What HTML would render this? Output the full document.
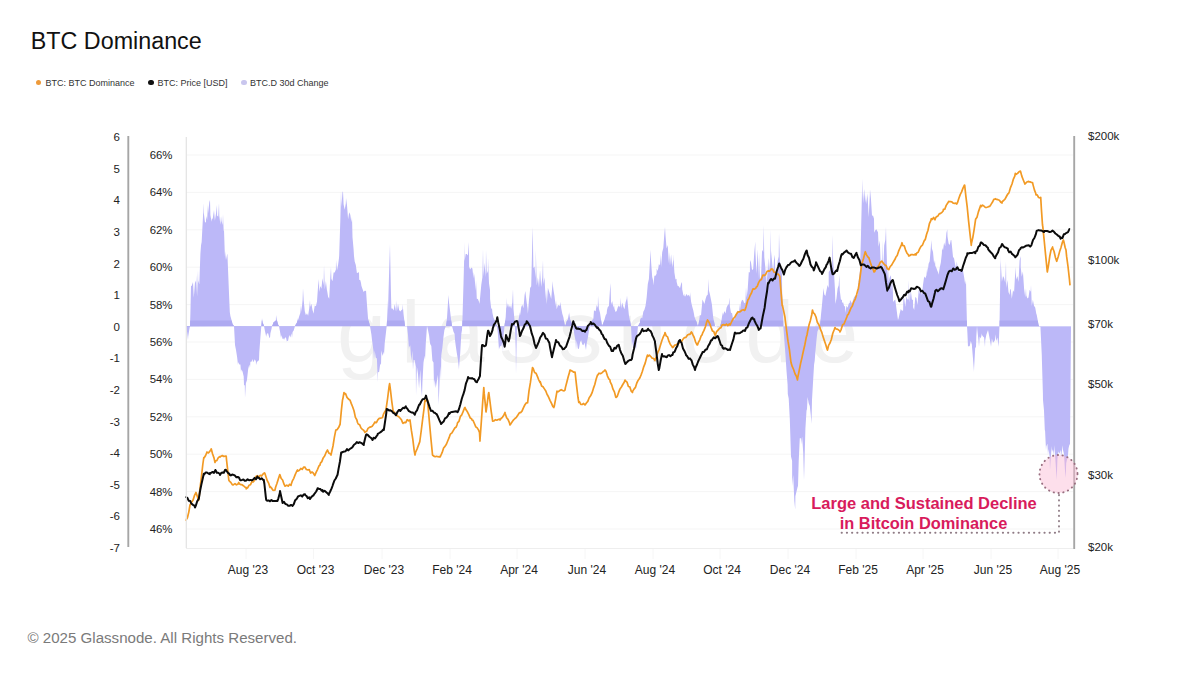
<!DOCTYPE html>
<html><head><meta charset="utf-8"><title>BTC Dominance</title>
<style>
html,body{margin:0;padding:0;background:#ffffff;}
body{width:1200px;height:675px;position:relative;overflow:hidden;font-family:"Liberation Sans", sans-serif;}
.title{position:absolute;left:30.8px;top:28px;font-size:23.3px;color:#111;white-space:nowrap;}
.legend{position:absolute;top:77.8px;left:0;font-size:9px;color:#333;white-space:nowrap;}
.li{position:absolute;top:0;}
.dot{position:absolute;top:1.8px;width:5.5px;height:5.5px;border-radius:50%;}
.copy{position:absolute;left:27.5px;top:629px;font-size:15.1px;color:#7a7a7a;white-space:nowrap;}
</style></head><body>
<div class="title">BTC Dominance</div>
<div class="legend">
<div class="dot" style="left:35.5px;background:#ee9a3a"></div><div class="li" style="left:45.5px">BTC: BTC Dominance</div>
<div class="dot" style="left:148px;background:#111"></div><div class="li" style="left:157.5px">BTC: Price [USD]</div>
<div class="dot" style="left:241px;background:#c9c6ee"></div><div class="li" style="left:250px">BTC.D 30d Change</div>
</div>
<svg width="1200" height="675" viewBox="0 0 1200 675" style="position:absolute;left:0;top:0"><line x1="186" x2="1073" y1="155.0" y2="155.0" stroke="#f5f5f5" stroke-width="1"/><line x1="186" x2="1073" y1="192.4" y2="192.4" stroke="#f5f5f5" stroke-width="1"/><line x1="186" x2="1073" y1="229.8" y2="229.8" stroke="#f5f5f5" stroke-width="1"/><line x1="186" x2="1073" y1="267.2" y2="267.2" stroke="#f5f5f5" stroke-width="1"/><line x1="186" x2="1073" y1="304.6" y2="304.6" stroke="#f5f5f5" stroke-width="1"/><line x1="186" x2="1073" y1="342.0" y2="342.0" stroke="#f5f5f5" stroke-width="1"/><line x1="186" x2="1073" y1="379.4" y2="379.4" stroke="#f5f5f5" stroke-width="1"/><line x1="186" x2="1073" y1="416.8" y2="416.8" stroke="#f5f5f5" stroke-width="1"/><line x1="186" x2="1073" y1="454.2" y2="454.2" stroke="#f5f5f5" stroke-width="1"/><line x1="186" x2="1073" y1="491.6" y2="491.6" stroke="#f5f5f5" stroke-width="1"/><line x1="186" x2="1073" y1="529.0" y2="529.0" stroke="#f5f5f5" stroke-width="1"/><text x="337" y="362" font-family='"Liberation Sans", sans-serif' font-size="88" letter-spacing="15" fill="#f1f1f1">glassnode</text><path d="M186.0,326.1 L186.0,326.5 L187.1,332.0 L188.0,340.0 L188.2,336.5 L189.3,329.6 L190.0,326.0 L190.4,313.5 L191.0,286.0 L191.6,286.1 L192.7,282.9 L193.0,282.0 L193.8,297.7 L194.9,283.3 L196.0,280.5 L196.0,275.0 L197.1,296.6 L198.0,270.0 L198.2,280.6 L199.3,284.3 L200.4,253.8 L201.3,242.0 L201.5,244.9 L202.7,222.0 L203.7,203.0 L203.8,212.7 L204.9,221.8 L206.0,222.8 L206.0,216.0 L207.1,219.9 L208.0,204.0 L208.2,213.5 L209.3,202.3 L210.0,200.0 L210.4,214.9 L211.5,221.8 L212.0,218.0 L212.6,219.5 L213.8,211.4 L214.0,210.0 L214.9,220.8 L216.0,213.5 L217.0,205.0 L217.1,215.4 L218.2,216.7 L219.0,203.0 L219.3,215.4 L220.4,224.8 L221.0,216.0 L221.5,220.7 L222.6,225.1 L223.0,214.0 L223.7,231.2 L224.0,230.0 L224.9,256.7 L225.0,251.0 L226.0,260.0 L227.1,254.4 L227.4,254.0 L228.2,273.7 L229.3,300.4 L229.8,312.0 L230.4,316.1 L231.5,320.1 L232.0,322.0 L232.6,324.2 L233.7,325.6 L234.0,326.0 L234.8,340.8 L235.0,345.0 L236.0,349.9 L237.1,357.0 L238.0,365.0 L238.2,362.0 L239.3,364.4 L240.4,364.6 L241.0,372.0 L241.5,369.3 L242.6,371.7 L243.7,376.4 L244.0,385.0 L244.8,385.5 L245.0,398.0 L245.9,383.2 L247.0,380.0 L247.1,378.5 L248.2,369.1 L249.3,364.5 L250.0,368.0 L250.4,361.7 L251.5,361.7 L252.6,358.9 L253.0,362.0 L253.7,361.6 L254.8,359.2 L255.9,361.6 L256.0,365.0 L257.0,361.7 L258.2,361.1 L259.0,360.0 L259.3,352.3 L260.4,337.5 L261.0,330.0 L261.5,324.3 L262.0,318.0 L262.6,322.6 L263.7,325.1 L264.0,326.0 L264.8,330.2 L265.9,335.2 L266.0,337.0 L267.0,333.5 L268.1,333.2 L269.3,337.6 L270.0,338.0 L270.4,333.3 L271.5,329.1 L272.0,326.0 L272.6,325.1 L273.7,322.1 L274.8,321.6 L275.9,320.2 L276.0,315.0 L277.0,320.5 L278.1,324.5 L279.0,326.0 L279.2,327.3 L280.4,333.8 L281.0,338.0 L281.5,335.1 L282.6,338.9 L283.7,338.6 L284.0,340.0 L284.8,338.0 L285.9,337.2 L287.0,342.0 L287.0,340.9 L288.1,340.8 L289.2,334.9 L290.3,337.5 L291.5,333.3 L292.0,338.0 L292.6,332.0 L293.7,330.5 L294.8,326.8 L295.0,326.0 L295.9,324.3 L297.0,322.4 L298.0,318.0 L298.1,319.9 L299.2,316.2 L300.3,313.1 L301.0,305.0 L301.4,311.9 L302.6,299.7 L303.0,288.0 L303.7,300.3 L304.8,311.2 L305.9,315.3 L306.0,315.0 L307.0,313.3 L308.1,315.7 L309.2,308.5 L310.0,300.0 L310.3,307.1 L311.4,303.7 L312.5,310.1 L313.7,313.7 L314.0,310.0 L314.8,305.5 L315.9,306.2 L317.0,301.5 L318.1,285.8 L319.0,279.0 L319.2,292.0 L320.3,286.1 L321.4,288.8 L322.5,278.2 L323.6,285.3 L324.0,265.0 L324.8,289.6 L325.9,281.0 L327.0,290.8 L327.0,290.0 L328.1,296.8 L329.2,298.7 L330.3,277.3 L331.0,267.0 L331.4,278.8 L332.5,281.3 L333.6,272.4 L334.7,272.4 L335.9,269.5 L336.0,260.0 L337.0,270.5 L338.1,264.7 L339.0,258.0 L339.2,255.3 L340.3,221.1 L341.0,191.0 L341.4,206.8 L342.5,191.9 L343.0,191.5 L343.6,204.3 L344.7,209.7 L345.8,203.6 L346.0,198.0 L347.0,205.2 L348.1,219.2 L349.2,212.3 L350.3,214.8 L351.4,222.3 L352.0,217.0 L352.5,237.2 L353.6,249.6 L354.0,256.0 L354.7,261.6 L355.8,265.1 L356.9,273.0 L358.1,272.7 L359.0,272.0 L359.2,279.8 L360.3,280.2 L361.0,283.0 L361.4,285.7 L362.5,289.1 L363.6,291.9 L364.7,290.8 L365.8,291.0 L366.0,290.0 L366.9,303.4 L368.0,318.0 L368.0,318.8 L369.2,322.7 L370.0,326.0 L370.3,327.7 L371.4,334.4 L372.0,340.0 L372.5,343.3 L373.6,352.2 L374.0,360.0 L374.7,350.4 L375.8,357.8 L376.9,358.6 L377.8,382.0 L378.0,372.3 L379.1,372.1 L380.3,363.4 L381.0,365.0 L381.4,350.5 L382.5,356.0 L383.6,351.7 L384.0,355.0 L384.7,343.6 L385.8,333.9 L386.7,326.0 L386.9,322.7 L388.0,300.0 L388.0,310.7 L389.1,272.4 L390.0,244.0 L390.2,256.4 L391.0,295.0 L391.4,308.6 L392.5,308.4 L393.6,310.4 L394.7,304.1 L395.8,311.2 L396.0,300.0 L396.9,311.4 L398.0,303.7 L399.1,310.1 L400.2,311.6 L401.3,310.2 L402.5,309.2 L402.6,304.0 L403.6,314.6 L404.7,323.5 L405.0,326.0 L405.8,326.1 L406.9,326.0 L407.0,326.0 L408.0,335.0 L409.0,350.0 L409.1,347.4 L410.2,345.3 L411.3,360.9 L412.4,350.7 L413.0,370.0 L413.6,359.7 L414.7,360.3 L415.8,366.8 L416.0,396.0 L416.9,366.5 L418.0,374.0 L419.0,388.0 L419.1,387.9 L420.2,369.8 L421.3,389.7 L422.0,397.0 L422.4,382.9 L423.5,362.6 L424.7,355.4 L425.0,360.0 L425.8,343.2 L426.9,327.5 L427.0,326.0 L428.0,330.0 L429.1,335.6 L429.6,340.0 L430.2,344.1 L431.3,345.9 L432.4,360.8 L433.5,362.4 L434.0,387.0 L434.6,379.6 L435.8,388.0 L436.9,381.1 L438.0,374.8 L438.5,405.0 L439.1,393.6 L440.2,366.2 L441.0,380.0 L441.3,355.2 L442.4,347.4 L443.5,336.8 L444.4,330.0 L444.6,329.4 L445.7,326.6 L446.0,326.0 L446.9,319.7 L448.0,302.3 L448.5,295.0 L449.1,303.3 L450.2,311.9 L451.3,321.3 L452.0,326.0 L452.4,327.6 L453.5,331.7 L454.6,334.1 L455.0,340.0 L455.7,345.5 L456.8,353.1 L458.0,360.1 L459.0,370.0 L459.1,366.8 L460.2,353.5 L461.3,333.9 L462.0,330.0 L462.4,321.5 L463.0,300.0 L463.5,283.6 L464.6,242.0 L464.6,261.1 L465.7,254.0 L466.8,254.0 L467.9,255.4 L469.0,242.0 L469.1,266.8 L470.2,269.6 L471.3,267.6 L472.4,268.6 L473.5,278.4 L473.8,272.0 L474.6,277.8 L475.7,290.8 L476.0,280.0 L476.8,298.8 L477.9,298.9 L479.0,301.8 L479.5,304.0 L480.2,296.4 L481.3,284.8 L482.4,277.3 L483.0,249.0 L483.5,276.4 L484.6,262.7 L485.7,277.5 L486.0,250.0 L486.8,273.8 L487.9,271.0 L488.0,258.0 L489.0,283.2 L490.0,290.0 L490.1,299.1 L491.3,309.2 L492.0,308.0 L492.4,312.7 L493.5,317.8 L494.6,320.0 L495.0,320.0 L495.7,322.6 L496.8,325.7 L497.0,326.0 L497.9,333.7 L499.0,350.0 L499.0,349.3 L500.1,346.0 L501.2,346.4 L502.4,341.7 L503.0,352.0 L503.5,336.6 L504.5,326.0 L504.6,325.3 L505.7,317.1 L506.7,297.5 L506.8,308.0 L507.9,303.3 L509.0,307.7 L510.0,305.0 L510.1,305.6 L511.2,308.7 L512.3,302.6 L513.0,289.0 L513.5,309.0 L514.6,320.9 L515.0,326.0 L515.7,348.6 L516.0,374.0 L516.8,333.2 L517.0,326.0 L517.9,323.0 L519.0,317.1 L520.0,312.0 L520.1,315.5 L521.2,307.3 L522.3,304.5 L523.4,308.3 L524.6,294.9 L525.4,291.0 L525.7,294.5 L526.8,303.2 L527.5,308.0 L527.9,313.7 L529.0,299.6 L530.0,290.0 L530.1,288.1 L531.2,286.3 L532.3,240.8 L532.7,227.0 L533.4,268.1 L534.5,266.6 L535.7,278.0 L535.8,249.8 L536.8,285.4 L537.9,277.3 L539.0,287.4 L540.0,270.5 L540.1,271.1 L541.2,287.1 L542.3,277.2 L543.0,260.0 L543.4,284.2 L544.5,277.3 L545.6,299.3 L546.0,289.0 L546.8,304.2 L547.9,287.8 L549.0,291.3 L550.1,294.7 L551.2,298.9 L552.3,286.1 L552.4,281.0 L553.4,289.6 L554.5,296.0 L555.6,305.9 L556.0,300.0 L556.7,309.2 L557.9,305.2 L559.0,305.3 L560.1,305.9 L560.7,301.7 L561.2,307.9 L562.3,313.7 L563.4,317.3 L564.5,324.0 L565.0,326.0 L565.6,325.0 L566.7,321.2 L567.8,319.6 L569.0,313.2 L569.0,312.0 L570.1,319.1 L571.2,321.9 L572.3,324.4 L573.0,326.0 L573.4,328.5 L574.5,335.5 L575.6,341.0 L576.0,350.0 L576.7,340.5 L577.8,348.4 L578.9,349.0 L580.1,342.1 L581.2,340.3 L582.3,344.5 L583.4,345.3 L584.5,342.4 L585.6,348.0 L586.0,350.0 L586.7,343.4 L587.8,338.0 L588.9,330.9 L590.0,326.0 L590.0,325.9 L591.2,321.9 L592.3,319.9 L593.4,318.5 L594.0,310.0 L594.5,310.7 L595.6,311.3 L596.7,305.0 L597.8,307.8 L598.0,295.4 L598.9,308.8 L600.0,312.8 L601.1,320.1 L602.0,326.0 L602.3,325.2 L603.4,322.7 L604.5,319.5 L605.6,315.5 L606.7,313.5 L607.0,310.0 L607.8,307.1 L608.9,306.1 L610.0,289.3 L610.5,283.0 L611.1,304.6 L612.2,301.0 L613.4,307.8 L614.0,305.0 L614.5,309.1 L615.6,312.0 L616.7,311.1 L617.8,307.3 L618.9,305.5 L620.0,307.6 L621.0,297.5 L621.1,308.7 L622.2,302.4 L623.3,306.5 L624.5,309.3 L625.6,302.3 L626.7,298.7 L627.0,295.4 L627.8,304.0 L628.9,315.2 L630.0,320.8 L631.0,326.0 L631.1,327.7 L632.0,350.0 L632.2,341.0 L633.3,347.4 L634.4,348.0 L635.6,347.3 L636.0,350.0 L636.7,340.8 L637.8,328.0 L638.0,326.0 L638.9,324.6 L640.0,322.6 L640.0,320.0 L641.1,317.6 L642.2,318.2 L643.3,311.8 L644.4,309.8 L645.5,305.9 L646.4,299.6 L646.7,297.1 L647.8,283.9 L648.9,279.1 L650.0,260.2 L650.5,249.8 L651.1,261.9 L652.2,276.9 L653.0,280.0 L653.3,285.4 L654.4,275.7 L655.5,275.8 L656.6,273.7 L656.7,268.5 L657.8,270.9 L658.9,264.0 L660.0,265.6 L661.0,254.0 L661.1,267.4 L662.2,252.3 L663.3,248.1 L664.4,233.3 L665.0,227.0 L665.5,235.4 L666.6,248.6 L667.7,245.1 L668.9,263.4 L669.2,251.9 L670.0,265.8 L671.1,254.3 L672.2,267.2 L673.3,259.4 L673.3,254.0 L674.4,272.4 L675.5,279.5 L676.5,278.8 L676.6,281.7 L677.7,285.9 L678.8,286.2 L680.0,288.2 L681.1,283.8 L682.0,282.0 L682.2,289.3 L683.3,294.8 L684.4,296.4 L684.8,293.4 L685.5,296.8 L686.6,293.7 L687.7,296.0 L688.8,294.7 L689.9,297.0 L690.0,292.0 L691.1,301.7 L692.2,306.4 L693.3,310.6 L694.0,314.0 L694.4,316.6 L695.5,319.5 L696.6,322.0 L697.7,325.7 L698.0,326.0 L698.8,322.7 L699.9,315.1 L701.0,315.6 L702.2,302.7 L702.4,299.6 L703.3,301.2 L704.4,303.9 L705.5,299.3 L706.6,295.8 L707.7,294.8 L708.6,278.8 L708.8,289.9 L709.9,294.2 L711.0,299.8 L712.0,305.0 L712.1,306.6 L713.3,317.9 L714.4,323.2 L715.0,326.0 L715.5,326.1 L716.6,326.2 L717.7,326.1 L718.8,326.1 L719.9,326.1 L720.0,326.0 L721.0,323.3 L722.1,316.3 L723.0,312.0 L723.2,314.9 L724.4,310.9 L725.5,313.4 L726.6,307.5 L727.7,305.2 L728.8,303.9 L729.4,297.5 L729.9,306.4 L731.0,312.7 L732.1,313.3 L733.2,320.1 L734.0,320.0 L734.3,319.4 L735.5,317.1 L736.6,313.3 L737.7,310.4 L738.8,313.4 L739.7,303.7 L739.9,310.8 L741.0,302.4 L742.1,299.8 L743.2,300.4 L744.3,303.2 L745.4,302.4 L746.0,287.0 L746.6,297.8 L747.7,289.3 L748.8,272.1 L749.9,272.6 L750.0,260.0 L751.0,262.6 L752.1,270.2 L753.2,268.7 L754.3,252.3 L755.3,241.5 L755.4,251.4 L756.5,273.7 L757.7,249.2 L758.8,278.5 L759.0,252.0 L759.9,278.8 L761.0,277.2 L762.1,249.8 L763.2,252.0 L763.6,225.0 L764.3,257.3 L765.4,268.1 L766.5,287.5 L767.0,262.0 L767.6,278.2 L768.8,257.9 L769.9,272.1 L770.9,229.0 L771.0,250.7 L772.1,261.9 L773.2,272.5 L774.3,254.8 L775.0,260.0 L775.4,281.2 L776.5,272.6 L777.6,260.9 L778.7,256.4 L779.0,233.0 L779.9,261.8 L781.0,266.2 L782.0,275.0 L782.1,289.4 L783.2,321.3 L783.3,326.0 L784.3,339.7 L785.4,354.1 L786.5,370.7 L787.6,384.7 L787.8,394.0 L788.7,398.4 L789.8,419.0 L791.0,456.6 L792.1,460.7 L792.2,486.0 L793.2,474.9 L794.3,500.8 L795.2,509.6 L795.4,496.2 L796.5,491.4 L797.6,487.0 L798.0,486.0 L798.7,461.5 L799.8,438.2 L800.9,438.3 L801.0,444.4 L802.1,436.4 L803.2,452.1 L804.0,480.0 L804.3,470.1 L805.4,428.7 L806.5,410.8 L807.0,409.0 L807.6,396.9 L808.7,403.2 L809.8,406.0 L810.9,415.9 L811.5,423.7 L812.0,400.1 L813.2,379.3 L814.3,360.9 L814.4,364.4 L815.4,351.7 L816.5,339.8 L817.4,331.9 L817.6,331.0 L818.7,328.9 L819.8,326.4 L820.0,326.0 L820.9,315.8 L822.0,304.8 L823.1,292.5 L823.3,288.0 L824.3,294.4 L825.4,295.9 L826.5,290.2 L827.6,285.0 L828.7,287.9 L828.7,272.0 L829.8,270.6 L830.9,267.1 L832.0,270.2 L832.7,234.7 L833.1,259.8 L834.2,276.2 L835.0,290.0 L835.4,304.0 L836.5,298.3 L837.6,288.4 L838.7,285.2 L839.3,274.7 L839.8,290.5 L840.9,299.6 L842.0,300.0 L842.0,302.7 L843.1,302.3 L844.2,306.5 L845.0,306.0 L845.3,313.0 L846.5,305.7 L847.6,307.8 L848.7,303.8 L849.8,302.7 L850.0,300.0 L850.9,301.4 L852.0,303.5 L853.1,299.7 L854.2,297.0 L855.0,296.0 L855.3,296.4 L856.4,293.4 L857.6,295.4 L858.0,285.0 L858.7,280.6 L859.8,272.0 L860.0,270.0 L860.9,238.5 L862.0,191.2 L862.0,178.7 L863.1,203.3 L864.2,189.0 L865.3,202.8 L866.0,194.7 L866.4,204.6 L867.5,193.3 L868.7,217.3 L869.8,195.6 L870.0,189.3 L870.9,198.2 L872.0,215.5 L873.1,215.8 L874.0,218.7 L874.2,232.7 L875.3,230.2 L876.4,229.2 L877.5,231.4 L878.0,232.0 L878.6,246.8 L879.8,240.5 L880.9,269.2 L882.0,258.1 L882.0,240.0 L883.1,274.2 L884.2,245.4 L885.3,240.0 L886.0,226.7 L886.4,245.0 L887.5,280.3 L888.0,262.0 L888.6,282.0 L889.7,277.6 L890.9,275.2 L892.0,292.3 L892.7,280.0 L893.1,301.9 L894.2,300.6 L895.3,299.6 L896.4,308.2 L897.5,316.7 L898.0,320.0 L898.6,318.2 L899.7,313.3 L900.8,309.0 L902.0,310.7 L903.1,310.5 L903.3,298.7 L904.2,298.5 L905.3,307.0 L906.4,296.3 L907.5,299.5 L908.6,299.4 L908.7,280.0 L909.7,302.4 L910.8,290.5 L911.9,299.4 L913.0,300.0 L913.1,307.2 L914.2,310.0 L915.3,296.9 L916.4,297.9 L917.5,304.9 L918.6,291.3 L919.3,288.0 L919.7,293.9 L920.8,290.4 L921.9,294.9 L923.0,284.8 L924.2,276.4 L925.3,278.2 L926.4,275.5 L927.3,266.7 L927.5,273.1 L928.6,263.8 L929.7,261.2 L930.8,247.8 L931.3,240.0 L931.9,248.5 L933.0,252.0 L934.1,263.7 L935.0,260.0 L935.3,265.7 L936.4,267.9 L937.5,271.3 L938.0,272.0 L938.6,274.8 L939.7,267.7 L940.8,262.8 L941.9,253.1 L942.0,248.0 L943.0,250.4 L944.1,242.5 L945.2,246.2 L946.4,233.0 L947.3,229.3 L947.5,236.5 L948.6,243.4 L949.7,244.9 L950.8,239.9 L951.3,240.0 L951.9,245.4 L953.0,256.8 L954.1,258.4 L955.2,264.9 L956.3,268.6 L956.7,261.3 L957.5,266.4 L958.6,271.7 L959.7,271.2 L960.8,268.5 L961.9,269.9 L962.0,266.7 L963.0,270.6 L964.1,276.9 L965.2,284.4 L966.0,280.0 L966.3,296.7 L967.0,326.0 L967.4,333.0 L968.0,347.0 L968.6,346.0 L969.7,346.3 L970.8,341.0 L971.9,344.8 L972.0,347.0 L973.0,358.7 L974.0,372.0 L974.1,367.7 L975.2,348.1 L976.0,347.0 L976.3,336.6 L977.0,326.0 L977.4,330.5 L978.5,340.5 L979.0,347.0 L979.7,336.6 L980.8,338.6 L981.9,333.2 L982.0,335.0 L983.0,336.6 L984.1,337.4 L985.0,347.0 L985.2,340.6 L986.3,334.9 L987.4,331.7 L988.0,330.0 L988.5,332.5 L989.6,338.3 L990.8,344.9 L991.0,347.0 L991.9,338.4 L993.0,342.7 L994.1,341.4 L995.0,340.0 L995.2,334.3 L996.3,341.1 L997.4,337.4 L998.5,346.1 L998.6,347.0 L999.5,326.0 L999.6,319.9 L1000.7,253.3 L1000.7,260.7 L1001.9,281.7 L1003.0,276.0 L1004.1,278.1 L1005.2,282.8 L1006.0,261.3 L1006.3,288.1 L1007.4,279.9 L1008.5,292.1 L1009.6,295.1 L1010.0,290.0 L1010.7,288.8 L1011.8,298.7 L1013.0,290.3 L1014.1,292.1 L1015.2,272.8 L1015.3,266.7 L1016.3,279.7 L1017.4,275.9 L1018.5,282.0 L1019.6,260.5 L1020.7,256.0 L1020.7,267.1 L1021.8,276.7 L1022.9,271.4 L1024.1,288.7 L1025.2,297.3 L1026.0,288.0 L1026.3,295.2 L1027.4,298.6 L1028.5,297.4 L1029.6,289.8 L1030.7,291.7 L1031.0,285.0 L1031.8,306.0 L1032.9,299.8 L1034.0,305.8 L1035.2,307.4 L1036.3,313.8 L1036.7,314.7 L1037.4,318.6 L1038.5,324.7 L1039.0,326.0 L1039.6,326.2 L1040.4,326.0 L1040.7,332.4 L1041.8,355.5 L1041.9,360.0 L1042.9,393.6 L1043.0,400.0 L1044.0,410.4 L1044.8,430.0 L1045.1,431.0 L1046.0,450.0 L1046.3,446.5 L1047.4,443.8 L1048.0,455.0 L1048.5,449.0 L1049.6,456.2 L1050.0,470.0 L1050.7,458.5 L1051.8,445.9 L1052.0,452.0 L1052.9,449.2 L1054.0,455.0 L1054.0,444.9 L1055.1,455.2 L1056.2,472.3 L1056.7,480.0 L1057.4,459.2 L1058.5,450.8 L1058.5,452.0 L1059.6,453.6 L1060.7,449.7 L1061.0,458.0 L1061.8,451.8 L1062.9,445.3 L1063.0,450.0 L1064.0,454.0 L1065.1,472.4 L1065.6,478.0 L1066.2,463.3 L1067.3,458.3 L1068.0,455.0 L1068.5,448.4 L1069.6,443.9 L1070.0,445.0 L1070.7,363.0 L1071.0,326.5 Z" fill="#bcb8f8"/><defs><clipPath id="band"><rect x="186" y="320.5" width="886" height="6"/></clipPath></defs><path d="M186.0,326.1 L186.0,326.5 L187.1,332.0 L188.0,340.0 L188.2,336.5 L189.3,329.6 L190.0,326.0 L190.4,313.5 L191.0,286.0 L191.6,286.1 L192.7,282.9 L193.0,282.0 L193.8,297.7 L194.9,283.3 L196.0,280.5 L196.0,275.0 L197.1,296.6 L198.0,270.0 L198.2,280.6 L199.3,284.3 L200.4,253.8 L201.3,242.0 L201.5,244.9 L202.7,222.0 L203.7,203.0 L203.8,212.7 L204.9,221.8 L206.0,222.8 L206.0,216.0 L207.1,219.9 L208.0,204.0 L208.2,213.5 L209.3,202.3 L210.0,200.0 L210.4,214.9 L211.5,221.8 L212.0,218.0 L212.6,219.5 L213.8,211.4 L214.0,210.0 L214.9,220.8 L216.0,213.5 L217.0,205.0 L217.1,215.4 L218.2,216.7 L219.0,203.0 L219.3,215.4 L220.4,224.8 L221.0,216.0 L221.5,220.7 L222.6,225.1 L223.0,214.0 L223.7,231.2 L224.0,230.0 L224.9,256.7 L225.0,251.0 L226.0,260.0 L227.1,254.4 L227.4,254.0 L228.2,273.7 L229.3,300.4 L229.8,312.0 L230.4,316.1 L231.5,320.1 L232.0,322.0 L232.6,324.2 L233.7,325.6 L234.0,326.0 L234.8,340.8 L235.0,345.0 L236.0,349.9 L237.1,357.0 L238.0,365.0 L238.2,362.0 L239.3,364.4 L240.4,364.6 L241.0,372.0 L241.5,369.3 L242.6,371.7 L243.7,376.4 L244.0,385.0 L244.8,385.5 L245.0,398.0 L245.9,383.2 L247.0,380.0 L247.1,378.5 L248.2,369.1 L249.3,364.5 L250.0,368.0 L250.4,361.7 L251.5,361.7 L252.6,358.9 L253.0,362.0 L253.7,361.6 L254.8,359.2 L255.9,361.6 L256.0,365.0 L257.0,361.7 L258.2,361.1 L259.0,360.0 L259.3,352.3 L260.4,337.5 L261.0,330.0 L261.5,324.3 L262.0,318.0 L262.6,322.6 L263.7,325.1 L264.0,326.0 L264.8,330.2 L265.9,335.2 L266.0,337.0 L267.0,333.5 L268.1,333.2 L269.3,337.6 L270.0,338.0 L270.4,333.3 L271.5,329.1 L272.0,326.0 L272.6,325.1 L273.7,322.1 L274.8,321.6 L275.9,320.2 L276.0,315.0 L277.0,320.5 L278.1,324.5 L279.0,326.0 L279.2,327.3 L280.4,333.8 L281.0,338.0 L281.5,335.1 L282.6,338.9 L283.7,338.6 L284.0,340.0 L284.8,338.0 L285.9,337.2 L287.0,342.0 L287.0,340.9 L288.1,340.8 L289.2,334.9 L290.3,337.5 L291.5,333.3 L292.0,338.0 L292.6,332.0 L293.7,330.5 L294.8,326.8 L295.0,326.0 L295.9,324.3 L297.0,322.4 L298.0,318.0 L298.1,319.9 L299.2,316.2 L300.3,313.1 L301.0,305.0 L301.4,311.9 L302.6,299.7 L303.0,288.0 L303.7,300.3 L304.8,311.2 L305.9,315.3 L306.0,315.0 L307.0,313.3 L308.1,315.7 L309.2,308.5 L310.0,300.0 L310.3,307.1 L311.4,303.7 L312.5,310.1 L313.7,313.7 L314.0,310.0 L314.8,305.5 L315.9,306.2 L317.0,301.5 L318.1,285.8 L319.0,279.0 L319.2,292.0 L320.3,286.1 L321.4,288.8 L322.5,278.2 L323.6,285.3 L324.0,265.0 L324.8,289.6 L325.9,281.0 L327.0,290.8 L327.0,290.0 L328.1,296.8 L329.2,298.7 L330.3,277.3 L331.0,267.0 L331.4,278.8 L332.5,281.3 L333.6,272.4 L334.7,272.4 L335.9,269.5 L336.0,260.0 L337.0,270.5 L338.1,264.7 L339.0,258.0 L339.2,255.3 L340.3,221.1 L341.0,191.0 L341.4,206.8 L342.5,191.9 L343.0,191.5 L343.6,204.3 L344.7,209.7 L345.8,203.6 L346.0,198.0 L347.0,205.2 L348.1,219.2 L349.2,212.3 L350.3,214.8 L351.4,222.3 L352.0,217.0 L352.5,237.2 L353.6,249.6 L354.0,256.0 L354.7,261.6 L355.8,265.1 L356.9,273.0 L358.1,272.7 L359.0,272.0 L359.2,279.8 L360.3,280.2 L361.0,283.0 L361.4,285.7 L362.5,289.1 L363.6,291.9 L364.7,290.8 L365.8,291.0 L366.0,290.0 L366.9,303.4 L368.0,318.0 L368.0,318.8 L369.2,322.7 L370.0,326.0 L370.3,327.7 L371.4,334.4 L372.0,340.0 L372.5,343.3 L373.6,352.2 L374.0,360.0 L374.7,350.4 L375.8,357.8 L376.9,358.6 L377.8,382.0 L378.0,372.3 L379.1,372.1 L380.3,363.4 L381.0,365.0 L381.4,350.5 L382.5,356.0 L383.6,351.7 L384.0,355.0 L384.7,343.6 L385.8,333.9 L386.7,326.0 L386.9,322.7 L388.0,300.0 L388.0,310.7 L389.1,272.4 L390.0,244.0 L390.2,256.4 L391.0,295.0 L391.4,308.6 L392.5,308.4 L393.6,310.4 L394.7,304.1 L395.8,311.2 L396.0,300.0 L396.9,311.4 L398.0,303.7 L399.1,310.1 L400.2,311.6 L401.3,310.2 L402.5,309.2 L402.6,304.0 L403.6,314.6 L404.7,323.5 L405.0,326.0 L405.8,326.1 L406.9,326.0 L407.0,326.0 L408.0,335.0 L409.0,350.0 L409.1,347.4 L410.2,345.3 L411.3,360.9 L412.4,350.7 L413.0,370.0 L413.6,359.7 L414.7,360.3 L415.8,366.8 L416.0,396.0 L416.9,366.5 L418.0,374.0 L419.0,388.0 L419.1,387.9 L420.2,369.8 L421.3,389.7 L422.0,397.0 L422.4,382.9 L423.5,362.6 L424.7,355.4 L425.0,360.0 L425.8,343.2 L426.9,327.5 L427.0,326.0 L428.0,330.0 L429.1,335.6 L429.6,340.0 L430.2,344.1 L431.3,345.9 L432.4,360.8 L433.5,362.4 L434.0,387.0 L434.6,379.6 L435.8,388.0 L436.9,381.1 L438.0,374.8 L438.5,405.0 L439.1,393.6 L440.2,366.2 L441.0,380.0 L441.3,355.2 L442.4,347.4 L443.5,336.8 L444.4,330.0 L444.6,329.4 L445.7,326.6 L446.0,326.0 L446.9,319.7 L448.0,302.3 L448.5,295.0 L449.1,303.3 L450.2,311.9 L451.3,321.3 L452.0,326.0 L452.4,327.6 L453.5,331.7 L454.6,334.1 L455.0,340.0 L455.7,345.5 L456.8,353.1 L458.0,360.1 L459.0,370.0 L459.1,366.8 L460.2,353.5 L461.3,333.9 L462.0,330.0 L462.4,321.5 L463.0,300.0 L463.5,283.6 L464.6,242.0 L464.6,261.1 L465.7,254.0 L466.8,254.0 L467.9,255.4 L469.0,242.0 L469.1,266.8 L470.2,269.6 L471.3,267.6 L472.4,268.6 L473.5,278.4 L473.8,272.0 L474.6,277.8 L475.7,290.8 L476.0,280.0 L476.8,298.8 L477.9,298.9 L479.0,301.8 L479.5,304.0 L480.2,296.4 L481.3,284.8 L482.4,277.3 L483.0,249.0 L483.5,276.4 L484.6,262.7 L485.7,277.5 L486.0,250.0 L486.8,273.8 L487.9,271.0 L488.0,258.0 L489.0,283.2 L490.0,290.0 L490.1,299.1 L491.3,309.2 L492.0,308.0 L492.4,312.7 L493.5,317.8 L494.6,320.0 L495.0,320.0 L495.7,322.6 L496.8,325.7 L497.0,326.0 L497.9,333.7 L499.0,350.0 L499.0,349.3 L500.1,346.0 L501.2,346.4 L502.4,341.7 L503.0,352.0 L503.5,336.6 L504.5,326.0 L504.6,325.3 L505.7,317.1 L506.7,297.5 L506.8,308.0 L507.9,303.3 L509.0,307.7 L510.0,305.0 L510.1,305.6 L511.2,308.7 L512.3,302.6 L513.0,289.0 L513.5,309.0 L514.6,320.9 L515.0,326.0 L515.7,348.6 L516.0,374.0 L516.8,333.2 L517.0,326.0 L517.9,323.0 L519.0,317.1 L520.0,312.0 L520.1,315.5 L521.2,307.3 L522.3,304.5 L523.4,308.3 L524.6,294.9 L525.4,291.0 L525.7,294.5 L526.8,303.2 L527.5,308.0 L527.9,313.7 L529.0,299.6 L530.0,290.0 L530.1,288.1 L531.2,286.3 L532.3,240.8 L532.7,227.0 L533.4,268.1 L534.5,266.6 L535.7,278.0 L535.8,249.8 L536.8,285.4 L537.9,277.3 L539.0,287.4 L540.0,270.5 L540.1,271.1 L541.2,287.1 L542.3,277.2 L543.0,260.0 L543.4,284.2 L544.5,277.3 L545.6,299.3 L546.0,289.0 L546.8,304.2 L547.9,287.8 L549.0,291.3 L550.1,294.7 L551.2,298.9 L552.3,286.1 L552.4,281.0 L553.4,289.6 L554.5,296.0 L555.6,305.9 L556.0,300.0 L556.7,309.2 L557.9,305.2 L559.0,305.3 L560.1,305.9 L560.7,301.7 L561.2,307.9 L562.3,313.7 L563.4,317.3 L564.5,324.0 L565.0,326.0 L565.6,325.0 L566.7,321.2 L567.8,319.6 L569.0,313.2 L569.0,312.0 L570.1,319.1 L571.2,321.9 L572.3,324.4 L573.0,326.0 L573.4,328.5 L574.5,335.5 L575.6,341.0 L576.0,350.0 L576.7,340.5 L577.8,348.4 L578.9,349.0 L580.1,342.1 L581.2,340.3 L582.3,344.5 L583.4,345.3 L584.5,342.4 L585.6,348.0 L586.0,350.0 L586.7,343.4 L587.8,338.0 L588.9,330.9 L590.0,326.0 L590.0,325.9 L591.2,321.9 L592.3,319.9 L593.4,318.5 L594.0,310.0 L594.5,310.7 L595.6,311.3 L596.7,305.0 L597.8,307.8 L598.0,295.4 L598.9,308.8 L600.0,312.8 L601.1,320.1 L602.0,326.0 L602.3,325.2 L603.4,322.7 L604.5,319.5 L605.6,315.5 L606.7,313.5 L607.0,310.0 L607.8,307.1 L608.9,306.1 L610.0,289.3 L610.5,283.0 L611.1,304.6 L612.2,301.0 L613.4,307.8 L614.0,305.0 L614.5,309.1 L615.6,312.0 L616.7,311.1 L617.8,307.3 L618.9,305.5 L620.0,307.6 L621.0,297.5 L621.1,308.7 L622.2,302.4 L623.3,306.5 L624.5,309.3 L625.6,302.3 L626.7,298.7 L627.0,295.4 L627.8,304.0 L628.9,315.2 L630.0,320.8 L631.0,326.0 L631.1,327.7 L632.0,350.0 L632.2,341.0 L633.3,347.4 L634.4,348.0 L635.6,347.3 L636.0,350.0 L636.7,340.8 L637.8,328.0 L638.0,326.0 L638.9,324.6 L640.0,322.6 L640.0,320.0 L641.1,317.6 L642.2,318.2 L643.3,311.8 L644.4,309.8 L645.5,305.9 L646.4,299.6 L646.7,297.1 L647.8,283.9 L648.9,279.1 L650.0,260.2 L650.5,249.8 L651.1,261.9 L652.2,276.9 L653.0,280.0 L653.3,285.4 L654.4,275.7 L655.5,275.8 L656.6,273.7 L656.7,268.5 L657.8,270.9 L658.9,264.0 L660.0,265.6 L661.0,254.0 L661.1,267.4 L662.2,252.3 L663.3,248.1 L664.4,233.3 L665.0,227.0 L665.5,235.4 L666.6,248.6 L667.7,245.1 L668.9,263.4 L669.2,251.9 L670.0,265.8 L671.1,254.3 L672.2,267.2 L673.3,259.4 L673.3,254.0 L674.4,272.4 L675.5,279.5 L676.5,278.8 L676.6,281.7 L677.7,285.9 L678.8,286.2 L680.0,288.2 L681.1,283.8 L682.0,282.0 L682.2,289.3 L683.3,294.8 L684.4,296.4 L684.8,293.4 L685.5,296.8 L686.6,293.7 L687.7,296.0 L688.8,294.7 L689.9,297.0 L690.0,292.0 L691.1,301.7 L692.2,306.4 L693.3,310.6 L694.0,314.0 L694.4,316.6 L695.5,319.5 L696.6,322.0 L697.7,325.7 L698.0,326.0 L698.8,322.7 L699.9,315.1 L701.0,315.6 L702.2,302.7 L702.4,299.6 L703.3,301.2 L704.4,303.9 L705.5,299.3 L706.6,295.8 L707.7,294.8 L708.6,278.8 L708.8,289.9 L709.9,294.2 L711.0,299.8 L712.0,305.0 L712.1,306.6 L713.3,317.9 L714.4,323.2 L715.0,326.0 L715.5,326.1 L716.6,326.2 L717.7,326.1 L718.8,326.1 L719.9,326.1 L720.0,326.0 L721.0,323.3 L722.1,316.3 L723.0,312.0 L723.2,314.9 L724.4,310.9 L725.5,313.4 L726.6,307.5 L727.7,305.2 L728.8,303.9 L729.4,297.5 L729.9,306.4 L731.0,312.7 L732.1,313.3 L733.2,320.1 L734.0,320.0 L734.3,319.4 L735.5,317.1 L736.6,313.3 L737.7,310.4 L738.8,313.4 L739.7,303.7 L739.9,310.8 L741.0,302.4 L742.1,299.8 L743.2,300.4 L744.3,303.2 L745.4,302.4 L746.0,287.0 L746.6,297.8 L747.7,289.3 L748.8,272.1 L749.9,272.6 L750.0,260.0 L751.0,262.6 L752.1,270.2 L753.2,268.7 L754.3,252.3 L755.3,241.5 L755.4,251.4 L756.5,273.7 L757.7,249.2 L758.8,278.5 L759.0,252.0 L759.9,278.8 L761.0,277.2 L762.1,249.8 L763.2,252.0 L763.6,225.0 L764.3,257.3 L765.4,268.1 L766.5,287.5 L767.0,262.0 L767.6,278.2 L768.8,257.9 L769.9,272.1 L770.9,229.0 L771.0,250.7 L772.1,261.9 L773.2,272.5 L774.3,254.8 L775.0,260.0 L775.4,281.2 L776.5,272.6 L777.6,260.9 L778.7,256.4 L779.0,233.0 L779.9,261.8 L781.0,266.2 L782.0,275.0 L782.1,289.4 L783.2,321.3 L783.3,326.0 L784.3,339.7 L785.4,354.1 L786.5,370.7 L787.6,384.7 L787.8,394.0 L788.7,398.4 L789.8,419.0 L791.0,456.6 L792.1,460.7 L792.2,486.0 L793.2,474.9 L794.3,500.8 L795.2,509.6 L795.4,496.2 L796.5,491.4 L797.6,487.0 L798.0,486.0 L798.7,461.5 L799.8,438.2 L800.9,438.3 L801.0,444.4 L802.1,436.4 L803.2,452.1 L804.0,480.0 L804.3,470.1 L805.4,428.7 L806.5,410.8 L807.0,409.0 L807.6,396.9 L808.7,403.2 L809.8,406.0 L810.9,415.9 L811.5,423.7 L812.0,400.1 L813.2,379.3 L814.3,360.9 L814.4,364.4 L815.4,351.7 L816.5,339.8 L817.4,331.9 L817.6,331.0 L818.7,328.9 L819.8,326.4 L820.0,326.0 L820.9,315.8 L822.0,304.8 L823.1,292.5 L823.3,288.0 L824.3,294.4 L825.4,295.9 L826.5,290.2 L827.6,285.0 L828.7,287.9 L828.7,272.0 L829.8,270.6 L830.9,267.1 L832.0,270.2 L832.7,234.7 L833.1,259.8 L834.2,276.2 L835.0,290.0 L835.4,304.0 L836.5,298.3 L837.6,288.4 L838.7,285.2 L839.3,274.7 L839.8,290.5 L840.9,299.6 L842.0,300.0 L842.0,302.7 L843.1,302.3 L844.2,306.5 L845.0,306.0 L845.3,313.0 L846.5,305.7 L847.6,307.8 L848.7,303.8 L849.8,302.7 L850.0,300.0 L850.9,301.4 L852.0,303.5 L853.1,299.7 L854.2,297.0 L855.0,296.0 L855.3,296.4 L856.4,293.4 L857.6,295.4 L858.0,285.0 L858.7,280.6 L859.8,272.0 L860.0,270.0 L860.9,238.5 L862.0,191.2 L862.0,178.7 L863.1,203.3 L864.2,189.0 L865.3,202.8 L866.0,194.7 L866.4,204.6 L867.5,193.3 L868.7,217.3 L869.8,195.6 L870.0,189.3 L870.9,198.2 L872.0,215.5 L873.1,215.8 L874.0,218.7 L874.2,232.7 L875.3,230.2 L876.4,229.2 L877.5,231.4 L878.0,232.0 L878.6,246.8 L879.8,240.5 L880.9,269.2 L882.0,258.1 L882.0,240.0 L883.1,274.2 L884.2,245.4 L885.3,240.0 L886.0,226.7 L886.4,245.0 L887.5,280.3 L888.0,262.0 L888.6,282.0 L889.7,277.6 L890.9,275.2 L892.0,292.3 L892.7,280.0 L893.1,301.9 L894.2,300.6 L895.3,299.6 L896.4,308.2 L897.5,316.7 L898.0,320.0 L898.6,318.2 L899.7,313.3 L900.8,309.0 L902.0,310.7 L903.1,310.5 L903.3,298.7 L904.2,298.5 L905.3,307.0 L906.4,296.3 L907.5,299.5 L908.6,299.4 L908.7,280.0 L909.7,302.4 L910.8,290.5 L911.9,299.4 L913.0,300.0 L913.1,307.2 L914.2,310.0 L915.3,296.9 L916.4,297.9 L917.5,304.9 L918.6,291.3 L919.3,288.0 L919.7,293.9 L920.8,290.4 L921.9,294.9 L923.0,284.8 L924.2,276.4 L925.3,278.2 L926.4,275.5 L927.3,266.7 L927.5,273.1 L928.6,263.8 L929.7,261.2 L930.8,247.8 L931.3,240.0 L931.9,248.5 L933.0,252.0 L934.1,263.7 L935.0,260.0 L935.3,265.7 L936.4,267.9 L937.5,271.3 L938.0,272.0 L938.6,274.8 L939.7,267.7 L940.8,262.8 L941.9,253.1 L942.0,248.0 L943.0,250.4 L944.1,242.5 L945.2,246.2 L946.4,233.0 L947.3,229.3 L947.5,236.5 L948.6,243.4 L949.7,244.9 L950.8,239.9 L951.3,240.0 L951.9,245.4 L953.0,256.8 L954.1,258.4 L955.2,264.9 L956.3,268.6 L956.7,261.3 L957.5,266.4 L958.6,271.7 L959.7,271.2 L960.8,268.5 L961.9,269.9 L962.0,266.7 L963.0,270.6 L964.1,276.9 L965.2,284.4 L966.0,280.0 L966.3,296.7 L967.0,326.0 L967.4,333.0 L968.0,347.0 L968.6,346.0 L969.7,346.3 L970.8,341.0 L971.9,344.8 L972.0,347.0 L973.0,358.7 L974.0,372.0 L974.1,367.7 L975.2,348.1 L976.0,347.0 L976.3,336.6 L977.0,326.0 L977.4,330.5 L978.5,340.5 L979.0,347.0 L979.7,336.6 L980.8,338.6 L981.9,333.2 L982.0,335.0 L983.0,336.6 L984.1,337.4 L985.0,347.0 L985.2,340.6 L986.3,334.9 L987.4,331.7 L988.0,330.0 L988.5,332.5 L989.6,338.3 L990.8,344.9 L991.0,347.0 L991.9,338.4 L993.0,342.7 L994.1,341.4 L995.0,340.0 L995.2,334.3 L996.3,341.1 L997.4,337.4 L998.5,346.1 L998.6,347.0 L999.5,326.0 L999.6,319.9 L1000.7,253.3 L1000.7,260.7 L1001.9,281.7 L1003.0,276.0 L1004.1,278.1 L1005.2,282.8 L1006.0,261.3 L1006.3,288.1 L1007.4,279.9 L1008.5,292.1 L1009.6,295.1 L1010.0,290.0 L1010.7,288.8 L1011.8,298.7 L1013.0,290.3 L1014.1,292.1 L1015.2,272.8 L1015.3,266.7 L1016.3,279.7 L1017.4,275.9 L1018.5,282.0 L1019.6,260.5 L1020.7,256.0 L1020.7,267.1 L1021.8,276.7 L1022.9,271.4 L1024.1,288.7 L1025.2,297.3 L1026.0,288.0 L1026.3,295.2 L1027.4,298.6 L1028.5,297.4 L1029.6,289.8 L1030.7,291.7 L1031.0,285.0 L1031.8,306.0 L1032.9,299.8 L1034.0,305.8 L1035.2,307.4 L1036.3,313.8 L1036.7,314.7 L1037.4,318.6 L1038.5,324.7 L1039.0,326.0 L1039.6,326.2 L1040.4,326.0 L1040.7,332.4 L1041.8,355.5 L1041.9,360.0 L1042.9,393.6 L1043.0,400.0 L1044.0,410.4 L1044.8,430.0 L1045.1,431.0 L1046.0,450.0 L1046.3,446.5 L1047.4,443.8 L1048.0,455.0 L1048.5,449.0 L1049.6,456.2 L1050.0,470.0 L1050.7,458.5 L1051.8,445.9 L1052.0,452.0 L1052.9,449.2 L1054.0,455.0 L1054.0,444.9 L1055.1,455.2 L1056.2,472.3 L1056.7,480.0 L1057.4,459.2 L1058.5,450.8 L1058.5,452.0 L1059.6,453.6 L1060.7,449.7 L1061.0,458.0 L1061.8,451.8 L1062.9,445.3 L1063.0,450.0 L1064.0,454.0 L1065.1,472.4 L1065.6,478.0 L1066.2,463.3 L1067.3,458.3 L1068.0,455.0 L1068.5,448.4 L1069.6,443.9 L1070.0,445.0 L1070.7,363.0 L1071.0,326.5 Z" fill="#aeaaf1" clip-path="url(#band)"/><path d="M186.0,519.9 L186.0,520.0 L187.4,517.8 L187.5,517.5 L188.8,512.1 L190.0,505.0 L190.2,504.6 L191.6,502.4 L193.0,500.0 L193.0,500.2 L194.4,495.7 L195.8,493.0 L196.0,492.5 L197.2,496.1 L198.6,500.4 L198.8,500.0 L200.0,488.3 L201.4,477.0 L202.8,464.5 L203.8,457.5 L204.2,457.7 L205.6,455.5 L207.0,452.0 L207.5,452.5 L208.4,452.9 L209.8,451.4 L211.2,449.2 L211.2,448.8 L212.6,454.0 L214.0,457.9 L215.0,462.5 L215.4,460.8 L216.8,460.6 L218.2,457.8 L219.6,456.6 L220.0,457.0 L221.0,456.2 L222.4,455.5 L223.8,456.5 L225.2,456.2 L226.2,456.2 L226.6,460.5 L228.0,472.9 L228.8,480.0 L229.4,481.1 L230.8,482.4 L232.2,484.5 L233.0,485.0 L233.6,484.6 L235.0,483.6 L236.4,484.8 L237.8,484.2 L238.8,482.5 L239.2,483.8 L240.6,484.6 L242.0,484.7 L243.4,485.7 L244.8,487.0 L246.2,487.6 L246.2,488.8 L247.6,487.9 L249.0,485.3 L250.4,484.8 L251.8,481.9 L252.0,482.0 L253.2,481.9 L254.6,480.2 L256.0,476.5 L257.4,475.6 L257.5,476.2 L258.8,476.9 L260.2,475.3 L261.6,476.1 L263.0,474.1 L264.4,472.8 L265.0,473.8 L265.8,476.3 L267.2,480.5 L268.6,483.1 L270.0,487.5 L270.0,486.4 L271.4,487.8 L272.8,490.1 L274.2,490.3 L275.0,490.0 L275.6,487.2 L277.0,483.3 L278.4,478.8 L279.8,474.5 L280.0,475.0 L281.2,478.5 L282.6,480.0 L284.0,484.2 L285.0,486.2 L285.4,486.0 L286.8,485.1 L288.2,486.2 L289.6,484.3 L291.0,485.4 L291.0,485.0 L292.4,480.8 L293.8,478.3 L295.2,474.6 L296.6,471.5 L297.5,470.0 L298.0,471.1 L299.4,470.2 L300.8,468.4 L302.2,469.4 L303.6,467.2 L305.0,467.2 L305.0,467.5 L306.4,469.5 L307.8,470.0 L309.2,469.6 L310.6,473.0 L312.0,472.0 L313.4,473.2 L314.8,475.6 L315.0,475.0 L316.2,472.2 L317.6,469.3 L319.0,465.9 L320.0,465.0 L320.4,463.1 L321.8,461.6 L323.2,457.9 L324.6,456.1 L326.0,452.7 L327.4,450.1 L327.5,450.0 L328.8,453.1 L330.2,453.8 L331.0,455.0 L331.6,452.2 L333.0,446.0 L334.4,437.2 L335.8,430.1 L336.0,430.0 L337.2,429.6 L338.6,427.6 L340.0,424.3 L340.0,425.0 L341.4,410.2 L342.5,400.0 L342.8,399.1 L344.0,392.5 L344.2,393.9 L345.6,393.7 L347.0,397.4 L348.4,399.0 L349.8,400.0 L350.0,400.0 L351.2,403.4 L352.6,406.8 L354.0,410.8 L355.4,417.4 L356.8,419.7 L357.5,422.5 L358.2,424.0 L359.6,424.7 L361.0,428.0 L362.4,429.3 L363.8,430.4 L365.0,432.5 L365.2,431.5 L366.6,431.5 L368.0,428.4 L369.4,427.4 L370.8,426.9 L372.2,426.2 L373.6,424.2 L375.0,421.9 L375.0,422.5 L376.4,422.7 L377.8,419.9 L379.2,418.4 L380.6,418.2 L382.0,417.7 L382.5,417.5 L383.4,414.4 L384.8,411.7 L386.0,410.0 L386.2,408.2 L387.6,398.5 L389.0,387.1 L389.6,383.7 L390.4,389.5 L391.8,401.7 L393.0,410.0 L393.2,411.5 L394.6,412.5 L396.0,414.4 L397.4,416.0 L398.8,416.7 L400.2,418.3 L401.6,420.1 L402.5,422.5 L403.0,423.4 L404.4,422.4 L405.8,422.6 L407.2,419.7 L408.6,420.8 L410.0,420.0 L410.0,420.0 L411.4,430.4 L412.8,439.1 L414.2,450.7 L415.0,455.0 L415.6,452.1 L417.0,449.1 L418.4,445.4 L419.8,441.6 L420.0,440.0 L421.2,431.0 L422.6,419.7 L424.0,408.8 L425.0,400.0 L425.4,401.1 L426.8,399.6 L427.5,400.0 L428.2,408.2 L429.6,424.1 L431.0,439.5 L432.4,453.7 L432.5,455.0 L433.8,456.1 L435.2,456.7 L436.6,456.3 L438.0,456.8 L439.4,456.5 L440.0,457.0 L440.8,455.5 L442.2,452.4 L443.6,448.0 L445.0,446.4 L446.4,444.2 L447.8,440.8 L449.2,437.4 L450.0,435.0 L450.6,433.9 L452.0,432.8 L453.4,430.4 L454.8,428.0 L456.2,427.0 L457.0,425.0 L457.6,422.6 L459.0,421.3 L460.4,416.3 L461.8,414.8 L463.2,411.4 L464.6,407.7 L465.0,407.5 L466.0,409.8 L467.4,411.8 L468.8,414.6 L470.2,417.9 L471.6,418.7 L472.0,420.0 L473.0,420.4 L474.4,423.5 L475.8,426.8 L477.2,427.9 L478.6,430.1 L479.5,432.5 L480.0,441.1 L480.0,440.0 L481.4,420.8 L482.8,400.6 L483.8,387.5 L484.2,393.4 L485.6,407.2 L486.0,412.0 L487.0,405.3 L488.4,394.2 L488.8,392.5 L489.8,400.0 L491.2,411.3 L492.5,420.0 L492.6,421.1 L494.0,421.0 L495.4,419.7 L496.8,420.2 L498.2,419.5 L499.6,419.1 L500.0,420.0 L501.0,418.5 L502.4,417.3 L503.8,415.2 L505.0,412.5 L505.2,413.5 L506.6,417.7 L508.0,419.4 L509.4,422.6 L510.0,425.0 L510.8,423.9 L512.2,421.7 L513.6,419.8 L515.0,418.5 L516.4,417.3 L517.8,415.2 L519.2,413.0 L520.0,412.5 L520.6,412.6 L522.0,411.1 L523.4,407.8 L524.8,405.0 L526.2,403.0 L527.5,402.5 L527.6,402.8 L529.0,390.8 L530.4,382.7 L531.8,372.6 L532.5,367.5 L533.2,368.4 L534.6,372.5 L536.0,373.2 L537.4,376.4 L538.8,380.0 L540.0,382.5 L540.2,381.6 L541.6,386.0 L543.0,386.8 L544.4,388.9 L545.8,391.0 L547.2,394.8 L547.5,395.0 L548.6,397.1 L550.0,400.3 L551.4,403.2 L552.8,406.4 L553.8,407.5 L554.2,406.5 L555.6,399.2 L557.0,391.2 L557.0,392.0 L558.4,391.6 L559.8,390.5 L561.2,389.7 L562.6,390.5 L564.0,390.8 L565.0,390.0 L565.4,387.6 L566.8,382.2 L568.2,376.8 L569.6,372.1 L570.0,370.0 L571.0,370.5 L572.4,371.3 L573.8,372.2 L575.0,372.0 L575.2,373.3 L576.6,385.8 L578.0,397.5 L578.8,402.5 L579.4,401.7 L580.8,404.4 L582.2,404.5 L583.6,403.5 L585.0,404.9 L585.0,405.0 L586.4,403.0 L587.8,401.4 L589.2,397.7 L590.6,395.8 L591.0,395.0 L592.0,392.9 L593.4,388.4 L594.8,384.5 L596.2,378.9 L597.5,375.0 L597.6,375.3 L599.0,373.2 L600.4,373.6 L601.8,373.0 L603.2,371.6 L604.6,370.8 L605.0,370.0 L606.0,371.3 L607.4,375.8 L608.8,378.8 L610.0,380.0 L610.2,381.8 L611.6,384.6 L613.0,389.2 L614.4,391.9 L615.8,397.3 L616.2,397.5 L617.2,396.5 L618.6,392.4 L620.0,388.9 L621.4,387.0 L622.8,384.5 L624.2,382.3 L625.0,380.0 L625.6,381.0 L627.0,382.1 L628.4,386.5 L629.8,386.9 L631.2,391.1 L632.5,392.5 L632.6,391.4 L634.0,389.1 L635.4,387.4 L636.8,383.0 L638.2,380.2 L639.6,378.3 L640.0,377.5 L641.0,375.1 L642.4,371.2 L643.8,366.6 L645.2,363.1 L646.6,357.7 L647.5,355.0 L648.0,356.5 L649.4,355.2 L650.8,356.5 L652.2,358.2 L653.6,358.5 L655.0,360.6 L655.0,360.0 L656.4,356.5 L657.8,352.4 L659.2,349.3 L660.6,344.8 L662.0,340.3 L663.4,336.6 L664.8,333.9 L665.0,332.5 L666.2,335.9 L667.6,336.9 L669.0,341.4 L670.4,344.5 L671.8,346.2 L672.5,347.5 L673.2,347.2 L674.6,345.2 L676.0,345.0 L677.4,343.9 L678.8,343.2 L680.0,342.0 L680.2,340.6 L681.6,341.7 L683.0,339.2 L684.4,337.6 L685.8,337.4 L687.2,335.4 L687.5,335.0 L688.6,334.4 L690.0,334.3 L691.4,332.0 L692.0,332.8 L692.8,334.7 L694.2,337.5 L695.6,342.0 L697.0,345.0 L697.5,345.0 L698.4,342.4 L699.8,339.8 L701.2,335.8 L702.0,335.0 L702.6,333.2 L704.0,330.4 L705.4,326.8 L706.8,321.8 L707.5,320.0 L708.2,320.9 L709.6,323.4 L711.0,327.3 L712.4,330.9 L713.8,331.6 L715.0,335.0 L715.2,335.5 L716.6,331.6 L718.0,330.2 L719.4,328.4 L720.8,327.8 L722.2,324.9 L722.5,325.0 L723.6,324.6 L725.0,325.3 L726.4,324.0 L727.8,325.6 L729.2,324.0 L730.0,325.0 L730.6,324.0 L732.0,321.0 L733.4,318.5 L734.8,317.1 L736.2,314.5 L737.5,312.5 L737.6,312.1 L739.0,311.8 L740.4,311.6 L741.8,310.2 L743.2,309.8 L744.6,310.5 L745.0,310.0 L746.0,306.9 L747.4,301.8 L748.0,299.6 L748.8,298.8 L750.2,295.2 L751.6,292.8 L752.5,290.0 L753.0,288.9 L754.4,289.1 L755.8,288.2 L756.3,287.0 L757.2,286.5 L758.6,282.6 L760.0,280.3 L761.4,279.5 L762.8,275.3 L763.4,275.0 L764.2,275.7 L765.6,274.5 L767.0,271.5 L768.4,270.8 L769.8,271.1 L771.2,269.0 L771.6,269.3 L772.6,269.1 L774.0,272.2 L775.4,272.3 L776.8,274.5 L778.2,274.0 L779.6,275.9 L779.8,276.3 L781.0,291.4 L782.2,305.6 L782.4,305.2 L783.8,311.6 L785.0,317.5 L785.2,319.5 L786.6,330.6 L788.0,341.2 L789.4,349.5 L790.8,361.0 L791.0,362.5 L792.2,366.4 L793.6,369.5 L795.0,373.8 L796.4,376.2 L797.5,380.0 L797.8,377.4 L799.2,370.5 L800.6,363.3 L802.0,357.6 L802.5,355.0 L803.4,351.0 L804.8,345.0 L806.2,337.6 L807.0,335.0 L807.6,331.5 L809.0,325.1 L810.4,320.4 L811.8,314.5 L812.5,310.0 L813.2,312.7 L814.6,313.8 L816.0,317.0 L817.4,322.6 L818.8,324.6 L820.0,327.5 L820.2,328.8 L821.6,331.8 L823.0,336.4 L824.4,340.7 L825.8,344.7 L827.2,349.4 L827.5,350.0 L828.6,345.4 L830.0,343.0 L831.4,339.2 L832.8,333.3 L834.2,329.8 L835.0,327.5 L835.6,328.7 L837.0,329.1 L838.4,329.8 L839.8,330.9 L840.0,332.0 L841.2,329.3 L842.6,324.8 L844.0,324.0 L845.4,320.5 L846.8,317.1 L847.5,315.0 L848.2,314.6 L849.6,311.3 L851.0,308.0 L852.4,305.9 L852.4,305.6 L853.8,301.7 L855.2,299.1 L856.6,294.7 L858.0,289.4 L858.3,289.2 L859.4,282.2 L860.8,271.4 L861.8,263.4 L862.2,262.8 L863.6,258.2 L865.0,252.5 L865.3,251.7 L866.4,254.6 L867.8,256.9 L869.0,258.0 L869.2,259.1 L870.6,263.2 L872.0,267.1 L873.4,270.1 L874.0,272.0 L874.8,271.5 L876.2,267.9 L877.6,266.8 L879.0,265.2 L880.4,262.2 L881.8,261.2 L882.0,261.3 L883.2,263.1 L884.6,264.7 L886.0,265.4 L887.4,268.9 L888.7,269.3 L888.8,269.6 L890.2,266.5 L891.6,265.1 L893.0,262.6 L894.4,260.2 L895.3,258.7 L895.8,257.2 L897.2,255.5 L898.6,251.2 L900.0,248.0 L901.4,244.8 L902.0,242.7 L902.8,245.5 L904.2,245.8 L905.6,250.1 L907.0,253.2 L908.4,254.8 L908.7,256.0 L909.8,255.6 L911.2,254.5 L912.6,254.7 L914.0,255.0 L915.4,254.0 L916.0,255.0 L916.8,253.0 L918.2,252.3 L919.6,248.9 L921.0,246.4 L922.4,245.2 L923.8,241.7 L924.7,240.0 L925.2,239.7 L926.6,234.2 L928.0,230.2 L929.4,223.7 L930.8,220.6 L931.3,218.7 L932.2,219.4 L933.6,217.5 L935.0,219.8 L935.3,218.7 L936.4,216.7 L937.8,216.1 L939.2,213.9 L940.6,213.4 L942.0,212.3 L943.3,210.7 L943.4,209.4 L944.8,209.2 L946.2,205.4 L947.6,203.3 L948.7,201.3 L949.0,201.7 L950.4,201.5 L951.8,201.8 L953.2,203.2 L954.6,203.4 L956.0,203.2 L956.7,204.0 L957.4,202.9 L958.8,198.6 L960.2,194.6 L961.6,191.9 L963.0,188.1 L964.4,185.1 L964.7,185.3 L965.8,195.6 L967.2,206.8 L967.3,208.0 L968.6,221.2 L970.0,233.8 L971.3,245.3 L971.4,243.5 L972.8,237.6 L974.2,229.1 L975.3,221.3 L975.6,219.3 L977.0,217.3 L978.4,211.9 L979.8,207.9 L980.7,205.3 L981.2,206.6 L982.6,205.1 L984.0,206.1 L985.4,207.5 L986.8,207.3 L988.0,207.0 L988.2,206.7 L989.6,206.4 L991.0,204.4 L992.4,202.3 L993.8,199.4 L995.2,199.1 L995.3,198.7 L996.6,199.4 L998.0,199.7 L999.4,200.2 L1000.8,202.3 L1002.0,203.0 L1002.2,201.7 L1003.6,200.5 L1005.0,199.1 L1006.4,196.5 L1007.8,194.0 L1008.7,193.3 L1009.2,192.0 L1010.6,187.3 L1012.0,184.0 L1013.4,179.1 L1014.8,176.1 L1015.3,173.3 L1016.2,174.3 L1017.6,173.4 L1019.0,171.7 L1020.4,171.1 L1020.7,172.0 L1021.8,176.1 L1023.2,179.7 L1024.6,183.2 L1025.0,184.0 L1026.0,182.9 L1027.4,181.7 L1028.7,181.3 L1028.8,181.8 L1030.2,181.9 L1031.6,182.5 L1032.5,182.5 L1033.0,184.6 L1034.4,189.9 L1035.8,193.5 L1036.0,195.0 L1037.2,194.9 L1038.6,197.5 L1040.0,198.0 L1040.7,197.3 L1041.4,209.1 L1042.5,225.0 L1042.8,226.7 L1044.2,240.5 L1045.6,254.8 L1047.0,268.9 L1047.3,272.0 L1048.4,265.8 L1049.8,256.1 L1051.0,250.0 L1051.2,249.9 L1052.6,247.0 L1052.7,248.0 L1054.0,251.2 L1055.4,257.4 L1056.7,261.3 L1056.8,261.1 L1058.2,256.8 L1059.6,251.6 L1061.0,247.4 L1062.4,242.2 L1063.3,240.0 L1063.8,241.4 L1065.2,247.7 L1066.0,250.0 L1066.6,256.2 L1068.0,266.5 L1069.4,279.0 L1070.0,285.3" fill="none" stroke="#f29a24" stroke-width="1.7" stroke-linejoin="round"/><path d="M186.0,496.5 L186.0,497.0 L187.4,497.8 L188.8,500.8 L190.2,500.9 L191.0,503.0 L191.6,503.8 L193.0,504.9 L194.4,505.7 L195.0,507.5 L195.8,505.7 L197.2,501.2 L198.6,498.9 L198.8,498.8 L200.0,491.4 L201.4,484.4 L202.8,478.3 L203.8,473.8 L204.2,474.5 L205.6,472.5 L207.0,472.6 L208.4,473.5 L209.8,474.2 L210.0,473.0 L211.2,472.8 L212.6,471.9 L214.0,472.9 L215.4,470.0 L216.0,471.0 L216.8,472.7 L218.2,472.7 L219.6,473.7 L220.0,475.0 L221.0,473.2 L222.4,472.5 L223.8,472.7 L225.2,469.8 L226.0,470.0 L226.6,471.0 L228.0,472.9 L229.4,473.9 L230.0,475.0 L230.8,475.4 L232.2,474.5 L233.6,474.9 L235.0,475.7 L236.4,477.3 L237.8,477.0 L238.8,477.5 L239.2,477.9 L240.0,480.0 L240.6,480.2 L242.0,479.9 L243.4,479.5 L244.8,480.8 L246.2,480.5 L247.6,479.3 L249.0,480.2 L250.0,480.0 L250.4,479.9 L251.8,480.4 L253.2,479.5 L254.6,477.9 L256.0,479.2 L257.4,476.5 L257.5,477.5 L258.8,477.8 L260.2,479.2 L261.6,478.2 L263.0,479.7 L263.8,480.0 L264.4,484.0 L265.8,496.8 L266.2,500.0 L267.2,500.8 L268.6,500.4 L270.0,501.3 L271.4,500.0 L272.8,501.1 L274.2,501.0 L275.6,501.0 L277.0,500.8 L277.5,501.0 L278.4,498.3 L279.8,493.0 L280.0,491.0 L281.2,496.5 L282.5,502.5 L282.6,503.0 L284.0,501.9 L285.4,504.0 L286.8,504.4 L288.2,505.8 L289.6,505.8 L291.0,504.9 L292.4,505.7 L292.5,506.0 L293.8,504.2 L295.2,500.2 L296.6,498.9 L297.5,497.5 L298.0,496.5 L299.4,495.9 L300.8,495.3 L302.2,496.6 L303.6,494.5 L305.0,494.3 L305.0,495.0 L306.4,495.8 L307.8,498.2 L309.2,497.3 L310.0,499.0 L310.6,498.0 L312.0,496.4 L313.4,495.4 L314.8,493.3 L316.2,491.5 L317.5,488.8 L317.6,488.2 L319.0,488.9 L320.4,489.1 L321.8,490.8 L322.5,490.0 L323.2,491.8 L324.6,490.8 L326.0,492.0 L327.4,493.2 L328.8,495.0 L328.8,494.2 L330.2,491.5 L331.6,488.4 L332.5,486.0 L333.0,484.3 L334.4,480.5 L335.8,478.5 L337.2,475.3 L337.5,475.0 L338.6,468.6 L340.0,461.2 L341.2,452.5 L341.4,452.9 L342.8,451.9 L344.2,451.6 L345.6,451.2 L347.0,449.0 L347.5,450.0 L348.4,450.4 L349.8,449.0 L351.2,448.2 L352.6,446.9 L354.0,444.8 L355.4,443.8 L356.8,442.0 L357.5,442.5 L358.2,443.1 L359.6,442.2 L361.0,442.8 L362.4,443.7 L363.8,445.0 L363.8,443.9 L365.2,438.1 L366.0,435.0 L366.6,434.3 L368.0,435.2 L369.4,436.7 L370.8,437.7 L372.2,439.4 L372.5,440.0 L373.6,437.7 L375.0,438.5 L376.4,436.4 L377.5,435.0 L377.8,433.8 L379.2,433.0 L380.6,432.1 L382.0,431.0 L383.4,429.3 L383.8,430.0 L384.8,423.4 L386.2,413.8 L386.7,408.9 L387.6,409.4 L389.0,410.4 L390.4,410.3 L391.8,411.2 L393.2,412.8 L394.6,413.5 L395.6,414.8 L396.0,415.2 L397.4,412.0 L398.8,410.1 L400.0,410.0 L400.2,411.1 L401.6,409.4 L403.0,407.8 L404.4,408.2 L405.8,406.3 L406.0,407.4 L407.2,408.5 L408.6,410.8 L410.0,411.7 L411.4,412.5 L412.8,412.5 L414.2,413.9 L414.8,414.8 L415.6,412.1 L417.0,410.4 L418.4,406.6 L419.3,404.4 L419.8,404.5 L421.2,401.5 L422.6,399.3 L424.0,399.0 L425.4,397.6 L426.0,395.6 L426.8,398.9 L428.2,402.9 L429.6,407.1 L431.0,411.0 L431.0,410.4 L432.4,410.7 L433.8,412.5 L435.2,413.0 L436.0,414.0 L436.6,414.0 L438.0,416.8 L439.4,420.2 L440.8,423.0 L441.0,424.0 L442.2,422.8 L443.6,421.6 L445.0,418.3 L446.4,417.6 L447.8,415.8 L448.9,413.0 L449.2,414.1 L450.6,412.4 L452.0,411.9 L453.4,411.7 L454.8,411.5 L456.2,411.3 L457.6,412.2 L457.8,411.9 L459.0,409.0 L460.4,404.3 L461.8,398.8 L463.0,395.0 L463.2,394.7 L464.6,390.1 L466.0,383.3 L467.4,379.9 L468.1,377.0 L468.8,378.2 L470.2,378.3 L471.6,378.5 L472.0,378.0 L473.0,378.8 L474.4,379.2 L475.8,381.9 L477.0,382.2 L477.2,381.3 L478.6,379.0 L480.0,375.9 L480.0,374.7 L481.4,353.8 L482.0,345.3 L482.8,345.0 L484.2,346.3 L485.6,345.6 L486.0,345.0 L487.0,337.0 L488.0,330.7 L488.4,330.8 L489.8,334.6 L490.0,336.0 L491.2,333.8 L492.6,329.8 L492.7,328.7 L494.0,324.6 L495.4,322.9 L496.8,319.8 L497.3,317.3 L498.2,322.2 L499.6,328.4 L501.0,335.9 L501.3,337.3 L502.4,339.4 L503.8,342.9 L504.7,346.7 L505.2,343.4 L506.0,335.0 L506.6,336.8 L508.0,339.7 L508.7,341.3 L509.4,338.8 L510.8,330.1 L512.0,324.0 L512.2,324.9 L513.6,324.0 L515.0,321.7 L516.4,321.1 L517.3,321.3 L517.8,323.5 L519.2,331.0 L520.0,336.0 L520.6,334.9 L522.0,331.0 L523.4,328.3 L524.8,324.5 L526.2,323.5 L526.7,321.3 L527.6,322.2 L529.0,324.5 L530.0,326.0 L530.4,327.7 L531.8,333.7 L533.2,337.5 L534.6,344.0 L536.0,348.0 L536.0,348.0 L537.4,345.0 L538.8,341.9 L540.2,337.5 L541.6,335.6 L542.7,333.3 L543.0,332.9 L544.4,334.4 L545.8,338.5 L547.2,338.9 L548.6,341.6 L549.3,342.7 L550.0,347.1 L551.4,354.2 L552.0,357.3 L552.8,353.4 L554.2,347.8 L555.6,341.9 L556.0,340.0 L557.0,342.1 L558.4,342.3 L559.8,345.4 L561.2,346.6 L562.6,348.6 L562.7,349.3 L564.0,349.1 L565.4,347.4 L566.0,347.0 L566.8,344.6 L568.2,340.7 L569.6,336.6 L570.7,332.0 L571.0,330.6 L572.4,325.3 L573.3,321.3 L573.8,322.6 L575.2,326.0 L576.0,328.0 L576.6,328.7 L578.0,328.5 L579.4,329.1 L580.8,329.3 L582.2,330.9 L583.6,330.7 L585.0,331.6 L585.3,330.7 L586.4,330.1 L587.8,326.0 L589.2,324.6 L590.6,323.3 L590.7,322.0 L592.0,324.1 L593.4,323.5 L594.8,324.7 L596.2,326.8 L597.3,328.0 L597.6,327.3 L599.0,329.4 L600.4,330.7 L601.8,334.0 L602.7,334.7 L603.2,336.3 L604.6,339.0 L606.0,339.5 L607.4,343.3 L608.8,345.6 L610.2,346.7 L611.6,351.0 L612.0,350.7 L613.0,351.0 L614.4,347.8 L615.8,348.5 L617.2,345.8 L618.6,344.8 L618.7,344.7 L620.0,349.8 L621.4,353.5 L622.8,355.8 L624.2,360.6 L625.3,364.0 L625.6,363.8 L627.0,362.2 L628.4,360.8 L629.8,360.0 L631.2,359.9 L632.0,358.7 L632.6,354.5 L634.0,348.8 L635.4,341.5 L636.0,338.7 L636.8,336.4 L638.2,335.3 L639.6,334.2 L641.0,332.0 L642.4,329.0 L642.5,330.0 L643.8,331.2 L645.2,330.6 L646.6,331.0 L648.0,328.7 L648.4,329.7 L649.4,330.3 L650.8,331.4 L652.0,334.0 L652.2,335.3 L653.6,337.9 L655.0,341.5 L655.0,342.5 L656.4,352.6 L657.8,364.1 L658.8,370.0 L659.2,368.8 L660.6,360.8 L662.0,354.1 L662.0,355.0 L663.4,356.6 L664.8,356.3 L666.2,357.2 L667.0,357.0 L667.6,355.7 L669.0,355.1 L670.4,356.3 L671.8,355.1 L672.5,355.0 L673.2,352.5 L674.6,351.9 L676.0,348.3 L677.4,346.0 L678.8,341.3 L680.0,340.0 L680.2,341.4 L681.6,342.9 L683.0,348.4 L684.4,350.9 L685.8,354.1 L686.0,355.0 L687.2,356.3 L688.6,358.7 L690.0,358.4 L691.0,360.0 L691.4,360.0 L692.8,364.6 L694.2,367.3 L695.0,370.0 L695.6,367.6 L697.0,364.5 L698.4,360.9 L699.8,358.0 L701.2,355.0 L702.5,352.5 L702.6,351.9 L704.0,352.0 L705.4,349.7 L706.8,349.2 L707.0,349.0 L708.2,346.0 L709.6,343.9 L711.0,340.5 L712.0,340.0 L712.4,339.1 L713.8,337.4 L715.2,338.3 L716.6,336.8 L717.5,336.0 L718.0,336.3 L719.4,340.3 L720.8,344.7 L722.2,345.8 L722.5,347.5 L723.6,348.7 L725.0,348.2 L726.4,348.8 L727.8,350.1 L729.2,349.5 L730.0,350.0 L730.6,347.9 L732.0,343.5 L733.4,339.4 L734.8,332.8 L735.0,332.5 L736.2,333.5 L737.6,333.3 L739.0,333.3 L740.0,333.0 L740.4,332.6 L741.8,331.9 L743.2,330.6 L744.6,330.2 L745.0,331.0 L746.0,328.1 L747.4,327.3 L748.8,323.5 L750.2,320.8 L751.6,318.0 L752.5,317.5 L753.0,318.9 L754.3,319.3 L754.4,320.5 L755.8,323.4 L757.2,325.7 L758.6,329.0 L758.8,330.0 L760.0,328.5 L760.5,328.6 L761.4,324.0 L762.8,316.1 L764.2,309.8 L764.6,307.9 L765.6,300.0 L767.0,291.5 L768.0,283.0 L768.4,283.7 L769.8,280.7 L770.4,279.8 L771.2,279.0 L772.6,280.5 L774.0,278.5 L775.0,278.8 L775.4,277.0 L776.8,270.9 L778.2,266.8 L779.2,263.4 L779.6,264.3 L781.0,267.7 L782.4,270.2 L783.8,274.3 L783.9,274.5 L785.2,269.8 L786.6,266.8 L786.8,266.9 L788.0,265.0 L789.4,264.8 L790.8,262.8 L792.2,261.8 L793.6,261.5 L795.0,260.3 L795.0,261.0 L796.4,262.7 L797.8,263.9 L799.2,265.9 L799.7,265.8 L800.6,264.2 L802.0,261.3 L803.4,258.7 L804.8,254.4 L806.2,251.1 L806.7,250.5 L807.6,255.0 L809.0,257.8 L810.3,263.4 L810.4,264.2 L811.8,266.8 L813.2,268.0 L813.8,270.4 L814.6,268.3 L816.0,263.2 L816.0,262.2 L817.4,265.3 L818.8,268.3 L820.2,271.3 L821.6,272.3 L822.0,274.0 L823.0,272.0 L824.4,269.1 L825.8,267.1 L826.6,264.6 L827.2,264.0 L828.6,260.8 L829.6,257.6 L830.0,260.1 L831.4,268.8 L832.5,274.0 L832.8,274.3 L834.2,273.4 L835.6,271.3 L837.0,269.9 L837.2,271.0 L838.4,265.7 L839.8,261.2 L841.2,255.5 L841.9,254.0 L842.6,254.4 L844.0,252.6 L845.4,251.7 L846.6,250.5 L846.8,251.0 L848.2,252.6 L849.6,253.5 L851.0,253.7 L852.4,257.2 L853.6,257.6 L853.8,257.9 L855.2,255.0 L856.5,252.9 L856.6,253.3 L858.0,257.6 L859.4,260.0 L860.6,264.6 L860.8,265.3 L862.2,264.4 L863.6,264.4 L865.0,265.3 L866.4,266.9 L867.8,265.9 L868.8,267.0 L869.2,267.7 L870.6,268.5 L872.0,267.4 L873.4,267.4 L874.8,267.8 L875.8,268.0 L876.2,268.4 L877.6,268.2 L879.0,267.5 L880.4,267.2 L880.7,266.7 L881.8,267.7 L883.2,270.6 L884.6,273.6 L885.0,275.0 L886.0,282.5 L887.3,290.7 L887.4,290.0 L888.8,287.9 L890.2,283.7 L891.6,281.0 L892.7,280.0 L893.0,280.4 L894.4,285.9 L895.8,290.5 L897.2,295.0 L898.6,298.5 L899.3,301.3 L900.0,300.6 L901.4,298.8 L902.8,297.3 L904.2,294.8 L905.6,295.2 L907.0,291.8 L908.4,292.3 L908.7,290.7 L909.8,291.3 L911.2,288.2 L912.6,288.6 L914.0,288.9 L915.4,288.6 L916.7,286.7 L916.8,286.7 L918.2,287.3 L919.6,288.3 L921.0,291.4 L922.4,290.7 L923.8,292.8 L924.7,293.3 L925.2,293.4 L926.6,297.2 L928.0,301.2 L929.4,301.9 L930.8,306.5 L931.3,306.7 L932.2,303.1 L933.6,298.5 L935.0,292.4 L935.3,290.7 L936.4,289.8 L937.8,291.3 L939.2,290.0 L940.6,288.5 L942.0,288.2 L943.3,289.3 L943.4,289.0 L944.8,284.4 L946.2,279.5 L947.6,274.6 L948.7,272.0 L949.0,271.4 L950.4,270.7 L951.8,271.3 L953.2,268.5 L954.6,269.7 L956.0,269.2 L956.7,268.0 L957.4,267.3 L958.8,269.9 L960.2,269.9 L961.6,270.9 L962.0,270.0 L963.0,266.3 L964.4,262.1 L965.8,257.7 L967.2,254.9 L967.3,253.3 L968.6,253.5 L970.0,252.9 L971.4,253.1 L972.8,252.7 L974.2,252.1 L975.3,253.3 L975.6,251.7 L977.0,250.8 L978.4,246.7 L979.8,245.6 L980.7,242.7 L981.2,242.4 L982.6,243.5 L984.0,245.1 L985.4,245.3 L986.8,246.8 L988.0,248.0 L988.2,249.4 L989.6,251.0 L991.0,252.6 L992.4,253.9 L993.8,256.5 L995.2,258.3 L995.3,257.3 L996.6,254.8 L998.0,252.5 L999.4,248.0 L1000.8,247.0 L1002.0,244.0 L1002.2,244.1 L1003.6,246.3 L1005.0,247.4 L1006.4,247.8 L1007.8,248.6 L1008.0,250.0 L1009.2,252.3 L1010.6,251.6 L1012.0,253.9 L1013.4,255.0 L1014.8,256.3 L1015.3,257.3 L1016.2,256.4 L1017.6,254.6 L1019.0,250.3 L1020.4,248.9 L1020.7,248.0 L1021.8,247.2 L1023.2,247.5 L1024.6,246.7 L1026.0,245.8 L1027.4,245.4 L1028.8,245.2 L1030.2,246.6 L1031.3,245.3 L1031.6,244.5 L1033.0,240.0 L1034.4,238.0 L1035.8,234.4 L1036.7,230.7 L1037.2,230.7 L1038.6,230.1 L1040.0,230.5 L1041.4,230.5 L1042.8,231.4 L1044.0,232.0 L1044.2,230.9 L1045.6,231.1 L1047.0,230.9 L1048.4,231.5 L1049.8,232.1 L1051.2,231.6 L1052.6,230.5 L1052.7,230.7 L1054.0,231.8 L1055.4,233.5 L1056.8,234.5 L1058.2,235.8 L1059.6,236.5 L1060.7,238.7 L1061.0,237.8 L1062.4,238.1 L1063.8,234.3 L1065.0,234.0 L1065.2,233.8 L1066.6,232.8 L1068.0,232.1 L1069.4,229.1 L1070.0,229.3" fill="none" stroke="#0b0b0b" stroke-width="2" stroke-linejoin="round"/><line x1="128.3" x2="128.3" y1="136" y2="547" stroke="#a6a6a6" stroke-width="1.9"/><line x1="186.3" x2="186.3" y1="137" y2="548" stroke="#e2e2e2" stroke-width="1.2"/><line x1="1074.2" x2="1074.2" y1="136" y2="549" stroke="#a6a6a6" stroke-width="1.9"/><line x1="186" x2="1073" y1="548.5" y2="548.5" stroke="#eeeeee" stroke-width="1.2"/><line x1="246" x2="246" y1="549" y2="559" stroke="#f6f6f6" stroke-width="1"/><line x1="313.5" x2="313.5" y1="549" y2="559" stroke="#f6f6f6" stroke-width="1"/><line x1="382" x2="382" y1="549" y2="559" stroke="#f6f6f6" stroke-width="1"/><line x1="450" x2="450" y1="549" y2="559" stroke="#f6f6f6" stroke-width="1"/><line x1="517" x2="517" y1="549" y2="559" stroke="#f6f6f6" stroke-width="1"/><line x1="585" x2="585" y1="549" y2="559" stroke="#f6f6f6" stroke-width="1"/><line x1="653" x2="653" y1="549" y2="559" stroke="#f6f6f6" stroke-width="1"/><line x1="720" x2="720" y1="549" y2="559" stroke="#f6f6f6" stroke-width="1"/><line x1="788" x2="788" y1="549" y2="559" stroke="#f6f6f6" stroke-width="1"/><line x1="856" x2="856" y1="549" y2="559" stroke="#f6f6f6" stroke-width="1"/><line x1="923" x2="923" y1="549" y2="559" stroke="#f6f6f6" stroke-width="1"/><line x1="991" x2="991" y1="549" y2="559" stroke="#f6f6f6" stroke-width="1"/><line x1="1058" x2="1058" y1="549" y2="559" stroke="#f6f6f6" stroke-width="1"/><text x="120" y="141.0" text-anchor="end" font-family='"Liberation Sans", sans-serif' font-size="11.5" fill="#222">6</text><text x="120" y="172.6" text-anchor="end" font-family='"Liberation Sans", sans-serif' font-size="11.5" fill="#222">5</text><text x="120" y="204.2" text-anchor="end" font-family='"Liberation Sans", sans-serif' font-size="11.5" fill="#222">4</text><text x="120" y="235.8" text-anchor="end" font-family='"Liberation Sans", sans-serif' font-size="11.5" fill="#222">3</text><text x="120" y="267.5" text-anchor="end" font-family='"Liberation Sans", sans-serif' font-size="11.5" fill="#222">2</text><text x="120" y="299.1" text-anchor="end" font-family='"Liberation Sans", sans-serif' font-size="11.5" fill="#222">1</text><text x="120" y="330.7" text-anchor="end" font-family='"Liberation Sans", sans-serif' font-size="11.5" fill="#222">0</text><text x="120" y="362.3" text-anchor="end" font-family='"Liberation Sans", sans-serif' font-size="11.5" fill="#222">-1</text><text x="120" y="393.9" text-anchor="end" font-family='"Liberation Sans", sans-serif' font-size="11.5" fill="#222">-2</text><text x="120" y="425.5" text-anchor="end" font-family='"Liberation Sans", sans-serif' font-size="11.5" fill="#222">-3</text><text x="120" y="457.2" text-anchor="end" font-family='"Liberation Sans", sans-serif' font-size="11.5" fill="#222">-4</text><text x="120" y="488.8" text-anchor="end" font-family='"Liberation Sans", sans-serif' font-size="11.5" fill="#222">-5</text><text x="120" y="520.4" text-anchor="end" font-family='"Liberation Sans", sans-serif' font-size="11.5" fill="#222">-6</text><text x="120" y="552.0" text-anchor="end" font-family='"Liberation Sans", sans-serif' font-size="11.5" fill="#222">-7</text><text x="172.5" y="159.0" text-anchor="end" font-family='"Liberation Sans", sans-serif' font-size="11.4" fill="#222">66%</text><text x="172.5" y="196.4" text-anchor="end" font-family='"Liberation Sans", sans-serif' font-size="11.4" fill="#222">64%</text><text x="172.5" y="233.8" text-anchor="end" font-family='"Liberation Sans", sans-serif' font-size="11.4" fill="#222">62%</text><text x="172.5" y="271.2" text-anchor="end" font-family='"Liberation Sans", sans-serif' font-size="11.4" fill="#222">60%</text><text x="172.5" y="308.6" text-anchor="end" font-family='"Liberation Sans", sans-serif' font-size="11.4" fill="#222">58%</text><text x="172.5" y="346.0" text-anchor="end" font-family='"Liberation Sans", sans-serif' font-size="11.4" fill="#222">56%</text><text x="172.5" y="383.4" text-anchor="end" font-family='"Liberation Sans", sans-serif' font-size="11.4" fill="#222">54%</text><text x="172.5" y="420.8" text-anchor="end" font-family='"Liberation Sans", sans-serif' font-size="11.4" fill="#222">52%</text><text x="172.5" y="458.2" text-anchor="end" font-family='"Liberation Sans", sans-serif' font-size="11.4" fill="#222">50%</text><text x="172.5" y="495.6" text-anchor="end" font-family='"Liberation Sans", sans-serif' font-size="11.4" fill="#222">48%</text><text x="172.5" y="533.0" text-anchor="end" font-family='"Liberation Sans", sans-serif' font-size="11.4" fill="#222">46%</text><text x="1088" y="140.4" font-family='"Liberation Sans", sans-serif' font-size="11.5" fill="#222">$200k</text><text x="1088" y="264.1" font-family='"Liberation Sans", sans-serif' font-size="11.5" fill="#222">$100k</text><text x="1088" y="327.8" font-family='"Liberation Sans", sans-serif' font-size="11.5" fill="#222">$70k</text><text x="1088" y="387.9" font-family='"Liberation Sans", sans-serif' font-size="11.5" fill="#222">$50k</text><text x="1088" y="479.0" font-family='"Liberation Sans", sans-serif' font-size="11.5" fill="#222">$30k</text><text x="1088" y="551.4" font-family='"Liberation Sans", sans-serif' font-size="11.5" fill="#222">$20k</text><text x="248" y="573.8" text-anchor="middle" font-family='"Liberation Sans", sans-serif' font-size="12" fill="#222">Aug '23</text><text x="315.5" y="573.8" text-anchor="middle" font-family='"Liberation Sans", sans-serif' font-size="12" fill="#222">Oct '23</text><text x="384" y="573.8" text-anchor="middle" font-family='"Liberation Sans", sans-serif' font-size="12" fill="#222">Dec '23</text><text x="452" y="573.8" text-anchor="middle" font-family='"Liberation Sans", sans-serif' font-size="12" fill="#222">Feb '24</text><text x="519" y="573.8" text-anchor="middle" font-family='"Liberation Sans", sans-serif' font-size="12" fill="#222">Apr '24</text><text x="587" y="573.8" text-anchor="middle" font-family='"Liberation Sans", sans-serif' font-size="12" fill="#222">Jun '24</text><text x="655" y="573.8" text-anchor="middle" font-family='"Liberation Sans", sans-serif' font-size="12" fill="#222">Aug '24</text><text x="722" y="573.8" text-anchor="middle" font-family='"Liberation Sans", sans-serif' font-size="12" fill="#222">Oct '24</text><text x="790" y="573.8" text-anchor="middle" font-family='"Liberation Sans", sans-serif' font-size="12" fill="#222">Dec '24</text><text x="858" y="573.8" text-anchor="middle" font-family='"Liberation Sans", sans-serif' font-size="12" fill="#222">Feb '25</text><text x="925" y="573.8" text-anchor="middle" font-family='"Liberation Sans", sans-serif' font-size="12" fill="#222">Apr '25</text><text x="993" y="573.8" text-anchor="middle" font-family='"Liberation Sans", sans-serif' font-size="12" fill="#222">Jun '25</text><text x="1060" y="573.8" text-anchor="middle" font-family='"Liberation Sans", sans-serif' font-size="12" fill="#222">Aug '25</text><circle cx="1058.5" cy="474" r="19" fill="#fbb9d2" fill-opacity="0.45" stroke="#9a6f80" stroke-width="1.9" stroke-dasharray="0.3 4.6" stroke-linecap="round"/><path d="M1059,495 L1059,532.7 L840,532.7" fill="none" stroke="#8f7b85" stroke-width="1.9" stroke-dasharray="0.3 4.9" stroke-linecap="round"/><text x="924" y="509" text-anchor="middle" font-family='"Liberation Sans", sans-serif' font-size="16.5" font-weight="bold" fill="#d81b5c">Large and Sustained Decline</text><text x="923.5" y="529" text-anchor="middle" font-family='"Liberation Sans", sans-serif' font-size="16.4" font-weight="bold" fill="#d81b5c">in Bitcoin Dominance</text></svg>
<div class="copy">&copy; 2025 Glassnode. All Rights Reserved.</div>
</body></html>
